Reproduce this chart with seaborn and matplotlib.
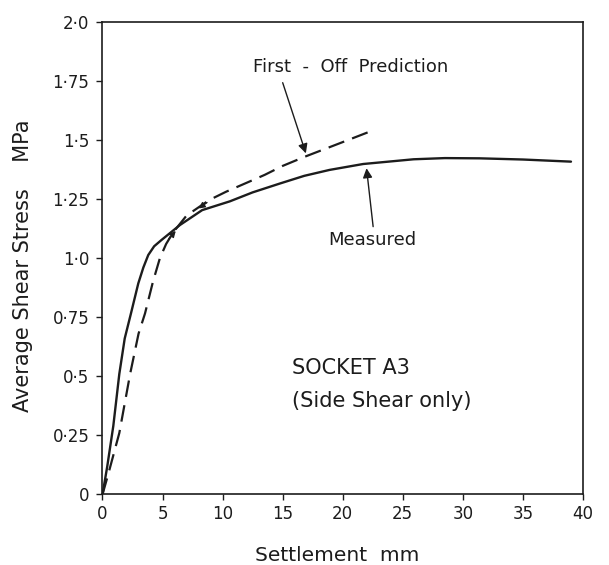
import matplotlib
matplotlib.use("Agg")
import matplotlib.pyplot as plt
import seaborn as sns
import pandas as pd

# Measured load-settlement curve (socket A3, side shear only)
measured_x = [0, 0.4, 0.9, 1.4, 1.85, 2.37, 2.98, 3.4, 3.81, 4.3, 4.92, 5.6, 6.45, 8.3,
              10.6, 12.5, 14.8, 16.8, 18.9, 21.7, 25.9, 28.5, 31.4, 35.0, 39.0]
measured_y = [0, 0.12, 0.29, 0.51, 0.66, 0.766, 0.893, 0.96, 1.013, 1.05, 1.077, 1.105,
              1.14, 1.203, 1.24, 1.278, 1.316, 1.348, 1.373, 1.398, 1.418, 1.423,
              1.422, 1.417, 1.408]

# First-off prediction (dashed)
pred_x = [0, 0.5, 1.4, 2.3, 3.0, 3.54, 4.2, 4.78, 5.3, 5.9, 7.0, 8.9, 10.3, 12.2,
          13.5, 15.0, 16.85, 19.76, 22.6]
pred_y = [0, 0.09, 0.26, 0.51, 0.68, 0.766, 0.90, 1.0, 1.06, 1.11, 1.18, 1.246, 1.281,
          1.323, 1.352, 1.39, 1.429, 1.486, 1.542]

x_ticks = [0, 5, 10, 15, 20, 25, 30, 35, 40]
x_ticklabels = ["0", "5", "10", "15", "20", "25", "30", "35", "40"]
y_ticks = [0, 0.25, 0.5, 0.75, 1.0, 1.25, 1.5, 1.75, 2.0]
y_ticklabels = ["0", "0·25", "0·5", "0·75", "1·0", "1·25", "1·5", "1·75", "2·0"]

ink = "#1c1c1c"

sns.set_style("ticks")
plt.rcParams["font.family"] = ["DejaVu Sans"]
plt.rcParams["text.color"] = ink
plt.rcParams["axes.labelcolor"] = ink
plt.rcParams["xtick.color"] = ink
plt.rcParams["ytick.color"] = ink

measured = pd.DataFrame({"settlement": measured_x, "stress": measured_y})
predicted = pd.DataFrame({"settlement": pred_x, "stress": pred_y})

fig = plt.figure(figsize=(6.09, 5.65), dpi=100)
ax = fig.add_axes([0.1683, 0.1248, 0.789, 0.8368])

sns.lineplot(data=measured, x="settlement", y="stress", sort=False, ax=ax,
             color=ink, lw=1.7)
sns.lineplot(data=predicted, x="settlement", y="stress", sort=False, ax=ax,
             color=ink, lw=1.6, linestyle=(0, (7.5, 3.8)))

ax.set_xlim(0, 40)
ax.set_ylim(0, 2.0)
ax.set_xticks(x_ticks)
ax.set_xticklabels(x_ticklabels)
ax.set_yticks(y_ticks)
ax.set_yticklabels(y_ticklabels)
ax.tick_params(direction="out", length=4.5, width=1.0, labelsize=12)
ax.tick_params(axis="y", pad=5)
ax.tick_params(axis="x", pad=3)

for side in ["left", "right", "top", "bottom"]:
    ax.spines[side].set_visible(True)
    ax.spines[side].set_linewidth(1.2)
    ax.spines[side].set_color(ink)

ax.set_xlabel("Settlement  mm", fontsize=14.5, va="center")
ax.xaxis.set_label_coords(0.489, -0.130)
ax.set_ylabel("Average Shear Stress    MPa", fontsize=15, va="center")
ax.yaxis.set_label_coords(-0.165, 0.483)

arrow = dict(arrowstyle="-|>", color=ink, lw=1.0, mutation_scale=14,
             shrinkA=0, shrinkB=0)
ax.annotate("", xy=(16.93, 1.443), xytext=(15.0, 1.742), arrowprops=arrow)
ax.annotate("", xy=(21.98, 1.380), xytext=(22.53, 1.133), arrowprops=arrow)
small = dict(arrowstyle="-|>", color=ink, lw=1.0, mutation_scale=9,
             shrinkA=0, shrinkB=0)
ax.annotate("", xy=(8.0, 1.21), xytext=(8.7, 1.235), arrowprops=small)
ax.annotate("", xy=(6.1, 1.115), xytext=(5.5, 1.08), arrowprops=small)

ax.text(12.56, 1.81, "First  -  Off  Prediction", fontsize=13, ha="left", va="center")
ax.text(18.8, 1.077, "Measured", fontsize=13, ha="left", va="center")
ax.text(15.74, 0.534, "SOCKET A3", fontsize=15, ha="left", va="center")
ax.text(15.74, 0.397, "(Side Shear only)", fontsize=15, ha="left", va="center")

fig.savefig("out.png", dpi=100)
